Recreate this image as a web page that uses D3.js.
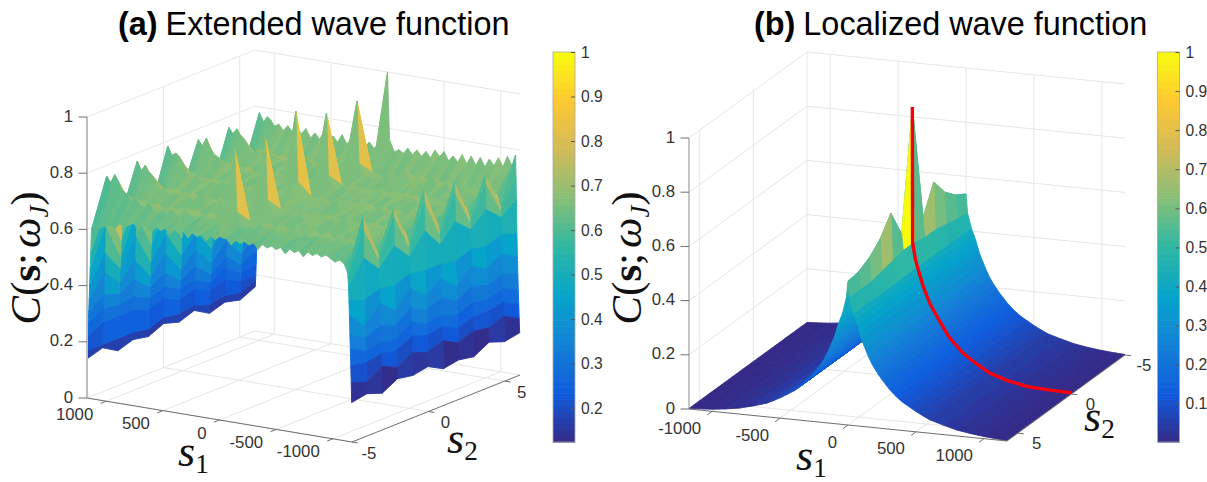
<!DOCTYPE html>
<html>
<head>
<meta charset="utf-8">
<script src="https://cdn.jsdelivr.net/npm/d3@7"></script>
<style>
    html, body { margin: 0; padding: 0; background: #fff; }
    svg { display: block; }
    text { font-family: "Liberation Sans", Arial, sans-serif; }
</style>
</head>
<body>
<div id="chart"></div>
<script>
const parulaColors = ["#352a87", "#0f5cdd", "#1481d6", "#06a4ca", "#2eb7a4", "#87bf77", "#d1bb59", "#fec832", "#f9fb0e"];

const s2Grid = [-5, -4, -3, -2, -1, 0, 1, 2, 3, 4, 5, 6];
const s1Ticks = [-1000, -500, 0, 500, 1000];
const s2Ticks = [-5, 0, 5];
const zTicks = [0, 0.2, 0.4, 0.6, 0.8, 1];
const barTicksA = [0.2, 0.3, 0.4, 0.5, 0.6, 0.7, 0.8, 0.9, 1];
const barTicksB = [0.1, 0.2, 0.3, 0.4, 0.5, 0.6, 0.7, 0.8, 0.9, 1];

// panel (a), one row per s1 value, one column per s2 value
const s1GridA = [-1167, -1163, -1159, -1155, -1151, -1147, -1143, -1139, -1135, -1131,
    -1100, -1060, -1020, -980, -940, -900, -860, -820, -780, -740, -700, -660, -620, -580, -540, -500, -460, -420, -380, -340, -300, -260, -220, -180, -140, -100, -60,
    -18, 0, 8,
    40, 80, 120, 160, 200, 240, 280, 320, 360, 400, 440, 480, 520, 560, 600, 640, 680, 720, 760, 800, 840, 880, 920, 960, 1000, 1030, 1060, 1095,
    1131, 1137, 1142, 1147, 1151, 1155, 1159, 1163, 1165, 1167];
const zA = [
    [.14, .15, .13, .16, .15, .16, .13, .14, .13, .16, .14, .15],
    [.21, .19, .225, .20, .23, .21, .23, .20, .22, .21, .23, .20],
    [.27, .26, .27, .26, .29, .27, .28, .25, .27, .27, .28, .25],
    [.33, .30, .31, .30, .34, .31, .32, .30, .32, .31, .33, .30],
    [.38, .345, .37, .35, .39, .36, .38, .35, .38, .36, .38, .36],
    [.45, .39, .45, .40, .46, .41, .45, .40, .45, .42, .45, .42],
    [.50, .48, .50, .49, .51, .50, .50, .49, .51, .50, .52, .50],
    [.55, .63, .57, .63, .57, .64, .57, .63, .58, .63, .58, .62],
    [.58, .73, .60, .73, .60, .74, .60, .73, .60, .72, .60, .70],
    [.60, .776, .62, .76, .62, .786, .62, .77, .62, .75, .62, .78],
    [.63, .68, .65, .67, .66, .68, .66, .67, .66, .68, .66, .74],
    [.64, .665, .66, .67, .65, .665, .66, .68, .65, .665, .66, .77],
    [.63, .675, .67, .66, .66, .68, .67, .665, .66, .675, .67, .73],
    [.64, .665, .66, .68, .66, .665, .65, .66, .67, .68, .65, .76],
    [.65, .66, .65, .665, .67, .69, .66, .675, .65, .665, .66, .73],
    [.64, .68, .66, .675, .65, .665, .67, .665, .66, .70, .66, .75],
    [.65, .665, .65, .69, .67, .675, .66, .70, .67, .665, .65, .72],
    [.64, .675, .67, .665, .66, .69, .65, .665, .65, .68, .67, .75],
    [.65, .66, .66, .68, .65, .675, .67, .68, .66, .70, .66, .72],
    [.63, .68, .65, .665, .67, .70, .66, .665, .67, .675, .65, .75],
    [.65, .675, .67, .70, .66, .665, .65, .69, .65, .68, .67, .72],
    [.64, .665, .66, .675, .65, .68, .67, .675, .67, .72, .66, .75],
    [.65, .68, .65, .665, .67, .675, .66, .70, .66, .675, .65, .72],
    [.63, .665, .67, .69, .66, .72, .65, .665, .67, .69, .67, .74],
    [.65, .66, .66, .675, .65, .675, .67, .68, .65, .72, .66, .72],
    [.64, .69, .67, .665, .67, .665, .66, .675, .67, .675, .65, .75],
    [.65, .665, .65, .70, .66, .69, .65, .70, .66, .68, .67, .73],
    [.64, .675, .67, .675, .67, .675, .67, .665, .65, .73, .66, .75],
    [.65, .665, .66, .68, .65, .665, .66, .68, .66, .675, .66, .72],
    [.63, .68, .65, .665, .66, .70, .67, .675, .67, .69, .65, .74],
    [.65, .66, .67, .69, .67, .675, .65, .69, .65, .665, .67, .72],
    [.64, .675, .66, .665, .65, .68, .66, .665, .66, .70, .66, .74],
    [.65, .69, .65, .68, .67, .665, .67, .68, .67, .675, .65, .72],
    [.64, .665, .67, .675, .66, .69, .65, .675, .65, .68, .67, .74],
    [.65, .675, .66, .66, .66, .675, .66, .69, .66, .665, .66, .72],
    [.63, .66, .66, .665, .66, .665, .67, .665, .67, .675, .65, .73],
    [.65, .665, .66, .675, .67, .675, .66, .675, .66, .68, .66, .72],
    [.65, .72, .66, .72, .66, .74, .66, .72, .66, .72, .66, .76],
    [.66, .94, .66, .94, .66, .99, .66, .94, .66, .94, .66, 1.0],
    [.65, .675, .66, .675, .66, .68, .65, .675, .66, .68, .65, .74],
    [.64, .68, .65, .665, .66, .665, .66, .68, .65, .665, .66, .72],
    [.65, .665, .67, .68, .66, .69, .65, .665, .67, .68, .66, .74],
    [.63, .675, .66, .665, .65, .675, .67, .69, .66, .665, .65, .72],
    [.65, .66, .65, .69, .67, .665, .66, .675, .65, .70, .67, .74],
    [.64, .68, .67, .675, .66, .70, .65, .665, .67, .675, .66, .72],
    [.65, .665, .66, .665, .65, .675, .67, .70, .66, .68, .65, .75],
    [.63, .69, .65, .70, .67, .665, .66, .675, .65, .665, .67, .72],
    [.65, .675, .67, .675, .66, .68, .65, .68, .67, .70, .66, .74],
    [.64, .665, .66, .665, .65, .70, .67, .665, .66, .675, .65, .72],
    [.65, .68, .65, .69, .67, .665, .66, .69, .65, .68, .67, .75],
    [.63, .70, .67, .675, .66, .68, .65, .675, .67, .71, .66, .72],
    [.65, .665, .66, .68, .65, .675, .67, .70, .66, .675, .65, .74],
    [.64, .675, .65, .665, .67, .69, .66, .665, .65, .69, .67, .72],
    [.65, .69, .67, .70, .66, .665, .65, .68, .67, .665, .66, .75],
    [.63, .665, .66, .675, .65, .68, .67, .675, .66, .70, .65, .72],
    [.64, .68, .65, .665, .67, .70, .66, .69, .65, .68, .67, .74],
    [.65, .665, .67, .68, .66, .675, .65, .665, .67, .675, .66, .72],
    [.63, .675, .66, .70, .65, .69, .67, .68, .66, .69, .65, .75],
    [.65, .70, .65, .675, .67, .68, .66, .70, .65, .70, .67, .73],
    [.64, .68, .67, .69, .66, .70, .65, .69, .67, .68, .66, .75],
    [.63, .69, .66, .68, .65, .68, .67, .68, .66, .70, .65, .73],
    [.64, .71, .65, .70, .67, .70, .66, .71, .65, .71, .67, .75],
    [.62, .70, .66, .69, .66, .71, .65, .70, .66, .69, .66, .73],
    [.63, .72, .65, .71, .65, .70, .66, .72, .65, .71, .65, .75],
    [.62, .73, .64, .74, .65, .74, .65, .73, .65, .74, .64, .74],
    [.62, .76, .64, .75, .64, .76, .65, .75, .64, .75, .64, .76],
    [.61, .78, .63, .77, .63, .77, .64, .78, .63, .77, .63, .77],
    [.60, .75, .62, .75, .62, .76, .63, .75, .62, .75, .62, .75],
    [.60, .77, .62, .78, .61, .79, .62, .77, .60, .77, .61, .78],
    [.52, .66, .52, .66, .52, .64, .50, .62, .50, .60, .48, .60],
    [.46, .60, .46, .60, .46, .58, .44, .54, .42, .52, .40, .52],
    [.40, .50, .42, .52, .40, .48, .38, .44, .36, .44, .35, .42],
    [.35, .43, .37, .43, .35, .41, .33, .38, .31, .37, .30, .36],
    [.31, .35, .33, .36, .31, .34, .29, .32, .27, .31, .26, .29],
    [.27, .30, .29, .30, .27, .29, .26, .27, .24, .27, .23, .24],
    [.22, .25, .25, .25, .23, .25, .22, .24, .21, .23, .20, .20],
    [.17, .17, .17, .17, .16, .18, .17, .18, .16, .17, .16, .18],
    [.14, .157, .125, .143, .132, .157, .14, .16, .128, .146, .132, .158]
];
// the long facets of the tall spikes next to s1 = 0 are shaded lighter than their height
const spikeShadeS1 = -18;
const spikeShadeA = [.66, .82, .66, .82, .66, .83, .66, .82, .66, .82, .66, .66];

// panel (b): the tails do not change with s2, only the rows close to s1 = 0 do
const s1GridB = [-1170, -1100, -1000, -900, -800, -700, -600, -550, -500, -450, -400, -375, -350, -325, -300, -275, -250, -225, -200, -175, -150, -125, -100, -85, -70, -55, -40, -12, 0,
    12, 40, 55, 70, 85, 100, 125, 150, 175, 200, 225, 250, 275, 300, 325, 350, 375, 400, 450, 500, 550, 600, 700, 800, 900, 1000, 1100, 1170];
const tailB = [.002, .004, .008, .014, .022, .035, .05, .062, .075, .09, .105, .115, .125, .137, .15, .165, .18, .197, .215, .235, .26, .29, .32, .345, .37, .39, .41, null, null,
    null, .41, .39, .37, .345, .32, .29, .26, .235, .215, .197, .18, .165, .15, .137, .125, .115, .105, .09, .075, .062, .05, .035, .022, .014, .008, .004, .002];
const peakRowB = [.535, .56, .60, .666, .563, 1.0, .56, .666, .60, .56, .537, .53];
const shoulderRowB = [.465, .47, .48, .49, .49, .50, .50, .49, .48, .47, .47, .47];
const zB = tailB.map((t, i) => t !== null ? s2Grid.map(() => t) : (s1GridB[i] === 0 ? peakRowB : shoulderRowB));

// red curve in panel (b), lying at s2 = 0
const s1Red = [0, 1, 2, 22, 50, 81, 130, 195, 270, 368, 460, 566, 700, 853, 1000, 1169];
const zRed = [1.0, .7, .5, .44, .39, .341, .28, .225, .165, .113, .08, .048, .026, .011, .007, .005];

const width = 1207, height = 482;
const svg = d3.select("#chart").append("svg").attr("width", width).attr("height", height);

function drawPanel(p) {
    const g = svg.append("g");
    const u = d3.scaleLinear().domain([-1170, 1170]).range([0, 1]);
    const v = d3.scaleLinear().domain([-5, 6]).range([0, 1]);
    const w = d3.scaleLinear().domain([0, 1]).range([0, p.zHeight]);
    const color = d3.scaleLinear().domain(d3.range(9).map(i => p.cMin + (1 - p.cMin) * i / 8)).range(parulaColors).clamp(true);
    const project = (s1, s2, z) => [
        p.origin[0] + u(s1) * p.e1[0] + v(s2) * p.e2[0],
        p.origin[1] + u(s1) * p.e1[1] + v(s2) * p.e2[1] - w(z)
    ];
    const line = d3.line();
    const gridColor = "#e6e6e6";

    const drawSeg = (a, b, col, sw) => g.append("path").attr("d", line([a, b])).attr("fill", "none").attr("stroke", col).attr("stroke-width", sw);

    // back walls and floor
    zTicks.forEach(z => {
        g.append("path").attr("d", line([project(p.backS1, p.frontS2, z), project(p.backS1, p.backS2, z), project(p.frontS1, p.backS2, z)]))
            .attr("fill", "none").attr("stroke", gridColor);
    });
    s1Ticks.forEach(t => {
        drawSeg(project(t, p.backS2, 0), project(t, p.backS2, 1), gridColor, 1);
        drawSeg(project(t, p.backS2, 0), project(t, p.frontS2, 0), gridColor, 1);
    });
    s2Ticks.forEach(t => {
        drawSeg(project(p.backS1, t, 0), project(p.backS1, t, 1), gridColor, 1);
        drawSeg(project(p.backS1, t, 0), project(p.frontS1, t, 0), gridColor, 1);
    });

    // surface, far cells first
    const rows = d3.range(p.s1.length - 1);
    const cols = d3.range(s2Grid.length - 1);
    if(p.reverse) {
        rows.reverse();
        cols.reverse();
    }
    const faces = [];
    for(const i of rows) {
        for(const j of cols) {
            const shade = p.shadeS1 === p.s1[i] ? p.shade[j] : p.z[i][j];
            faces.push({
                pts: [project(p.s1[i], s2Grid[j], p.z[i][j]), project(p.s1[i], s2Grid[j + 1], p.z[i][j + 1]),
                    project(p.s1[i + 1], s2Grid[j + 1], p.z[i + 1][j + 1]), project(p.s1[i + 1], s2Grid[j], p.z[i + 1][j])],
                c: color(shade)
            });
        }
    }
    g.selectAll("path.face").data(faces).join("path").attr("class", "face")
        .attr("d", d => line(d.pts) + "Z")
        .attr("fill", d => d.c)
        .attr("stroke", d => d.c)
        .attr("stroke-width", 0.9)
        .attr("stroke-linejoin", "round");

    if(p.redS1) {
        g.append("path").datum(p.redS1.map((s, i) => project(s, 0, p.redZ[i])))
            .attr("d", d3.line()).attr("fill", "none").attr("stroke", "#f5000f").attr("stroke-width", 3.4).attr("stroke-linejoin", "round");
    }

    // axes
    const axisColor = "#6e6e6e";
    drawSeg(project(p.axisS1, p.frontS2, 0), project(p.frontS1, p.frontS2, 0), axisColor, 1);
    drawSeg(project(p.frontS1, p.frontS2, 0), project(p.frontS1, p.backS2, 0), axisColor, 1);
    drawSeg(project(p.axisS1, p.frontS2, 0), project(p.axisS1, p.frontS2, 1), p.zAxisColor, p.zAxisWidth);

    const label = (x, y, txt, anchor) => g.append("text").attr("x", x).attr("y", y).attr("text-anchor", anchor)
        .attr("dominant-baseline", "central").attr("font-size", 16.8).attr("fill", "#333").text(txt);

    const e1n = Math.hypot(p.e1[0], p.e1[1]), e2n = Math.hypot(p.e2[0], p.e2[1]);
    s1Ticks.forEach(t => {
        const a = project(t, p.frontS2, 0);
        const dir = p.frontS2 === 6 ? 1 : -1;
        drawSeg(a, [a[0] + dir * 6 * p.e2[0] / e2n, a[1] + dir * 6 * p.e2[1] / e2n], axisColor, 1);
        label(a[0] + p.s1Label[0], a[1] + p.s1Label[1], t, "end");
    });
    s2Ticks.forEach(t => {
        const a = project(p.frontS1, t, 0);
        const dir = p.frontS1 > 0 ? 1 : -1;
        drawSeg(a, [a[0] + dir * 6 * p.e1[0] / e1n, a[1] + dir * 6 * p.e1[1] / e1n], axisColor, 1);
        label(a[0] + p.s2Label[0], a[1] + p.s2Label[1], t, "middle");
    });
    zTicks.forEach(t => {
        const a = project(p.axisS1, p.frontS2, t);
        drawSeg(a, [a[0] - 8.5, a[1]], axisColor, 1);
        label(a[0] - 14, a[1] - 1, t, "end");
    });

    // titles and math labels
    const title = g.append("text").attr("x", p.titleX).attr("y", 35).attr("font-size", 32.4).attr("fill", "#000");
    title.append("tspan").attr("font-weight", "bold").text(p.tag);
    title.append("tspan").attr("dx", 8).text(p.title);

    const math = (x, y, size, sub) => {
        const t = g.append("text").attr("x", x).attr("y", y).attr("font-size", size).style("font-family", "'Liberation Serif', serif").attr("fill", "#111");
        t.append("tspan").attr("font-style", "italic").text("s");
        t.append("tspan").attr("dy", size * 0.16).attr("font-size", size * 0.62).text(sub);
    };
    math(p.s1Pos[0], p.s1Pos[1], p.mathSize, "1");
    math(p.s2Pos[0], p.s2Pos[1], p.mathSize, "2");

    const ylab = g.append("text").attr("transform", "translate(" + p.yLabel[0] + "," + p.yLabel[1] + ") rotate(-90)")
        .attr("text-anchor", "middle").attr("font-size", p.yLabelSize).style("font-family", "'Liberation Serif', serif").attr("fill", "#111");
    ylab.append("tspan").attr("font-style", "italic").text("C");
    ylab.append("tspan").text("(");
    ylab.append("tspan").attr("font-weight", "bold").text("s");
    ylab.append("tspan").text(";");
    ylab.append("tspan").attr("font-style", "italic").attr("dx", 5).text("\u03C9");
    ylab.append("tspan").attr("font-style", "italic").attr("font-size", p.yLabelSize * 0.62).attr("dy", p.yLabelSize * 0.18).text("J");
    ylab.append("tspan").attr("dy", -p.yLabelSize * 0.18).text(")");

    // colorbar
    const barY = d3.scaleLinear().domain([p.cMin, 1]).range([p.barBottom, p.barTop]);
    const barG = g.append("g");
    const steps = d3.range(64);
    barG.selectAll("rect").data(steps).join("rect")
        .attr("x", p.barX).attr("width", p.barW)
        .attr("y", d => barY(p.cMin + (1 - p.cMin) * (d + 1) / 64))
        .attr("height", (p.barBottom - p.barTop) / 64 + 0.6)
        .attr("fill", d => color(p.cMin + (1 - p.cMin) * (d + 0.5) / 64));
    barG.append("rect").attr("x", p.barX).attr("y", p.barTop).attr("width", p.barW).attr("height", p.barBottom - p.barTop)
        .attr("fill", "none").attr("stroke", "#a8a8a8").attr("stroke-width", 0.8);
    const axis = d3.axisRight(barY).tickValues(p.barTicks).tickSize(-4).tickPadding(10).tickFormat(d3.format("~g"));
    const ag = barG.append("g").attr("transform", "translate(" + (p.barX + p.barW) + ",0)").call(axis);
    ag.select(".domain").remove();
    ag.selectAll("line").attr("stroke", "#555");
    ag.selectAll("text").attr("font-size", 15.6).attr("fill", "#333").attr("x", 6).style("font-family", "'Liberation Sans', sans-serif");
}

drawPanel({
    s1: s1GridA, z: zA, reverse: true, cMin: 0.124, zHeight: 281, shadeS1: spikeShadeS1, shade: spikeShadeA,
    origin: [352, 442], e1: [-265, -44], e2: [168, -67],
    axisS1: 1170, frontS1: -1170, backS1: 1170, frontS2: -5, backS2: 6,
    s1Label: [-13, 13], s2Label: [17, 11], zAxisColor: "#bdbdbd", zAxisWidth: 2,
    tag: "(a)", title: "Extended wave function", titleX: 118,
    s1Pos: [178, 466], s2Pos: [447, 453], mathSize: 44,
    yLabel: [40, 258], yLabelSize: 43,
    barX: 553, barW: 22, barTop: 52, barBottom: 442, barTicks: barTicksA
});
drawPanel({
    s1: s1GridB, z: zB, reverse: false, cMin: 0.002, zHeight: 271,
    origin: [807, 323], e1: [318, 32], e2: [-118, 86],
    axisS1: -1170, frontS1: 1170, backS1: -1170, frontS2: 6, backS2: -5,
    s1Label: [-11, 17], s2Label: [19, 10], zAxisColor: "#8a8a8a", zAxisWidth: 1,
    redS1: s1Red, redZ: zRed,
    tag: "(b)", title: "Localized wave function", titleX: 754,
    s1Pos: [796, 470], s2Pos: [1084, 431], mathSize: 44,
    yLabel: [641, 258], yLabelSize: 43,
    barX: 1157.5, barW: 22, barTop: 52, barBottom: 442, barTicks: barTicksB
});
</script>
</body>
</html>
